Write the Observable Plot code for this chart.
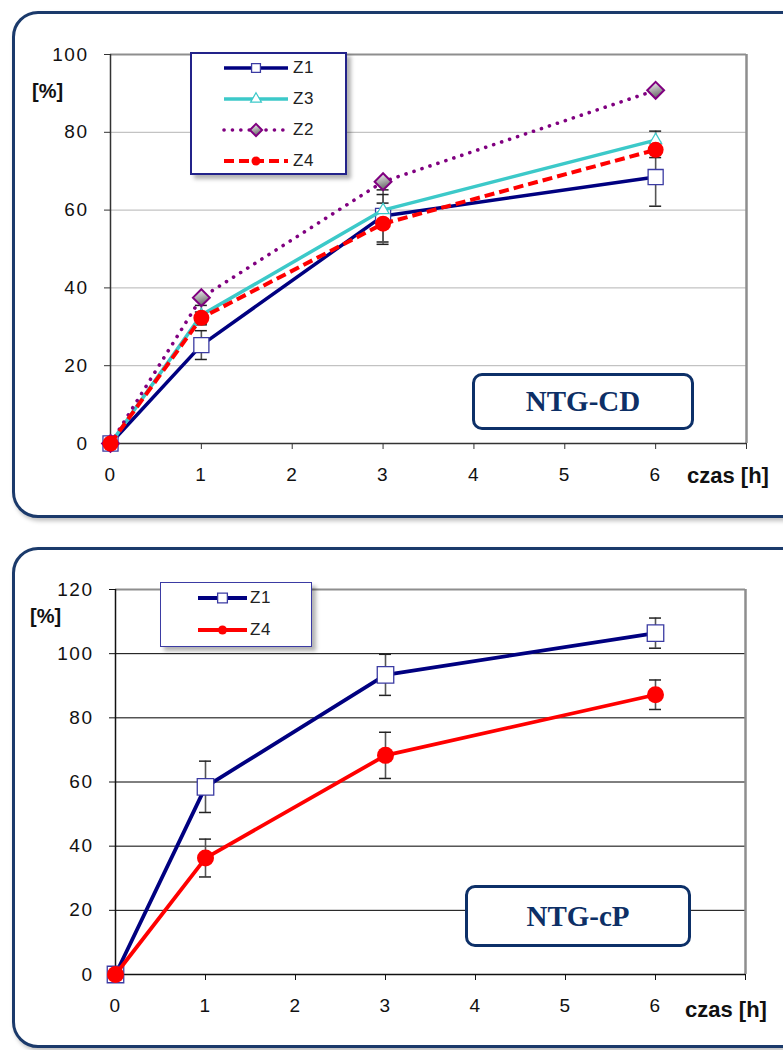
<!DOCTYPE html>
<html>
<head>
<meta charset="utf-8">
<script src="https://cdn.jsdelivr.net/npm/d3@7"></script>
<script src="https://cdn.jsdelivr.net/npm/@observablehq/plot@0.6"></script>
<style>
  body { margin: 0; background: #fff; }
  #page { position: relative; width: 783px; height: 1050px; overflow: hidden; font-family: "Liberation Sans", Arial, sans-serif; }
  .panel { position: absolute; border: 3px solid #1b3a6b; border-radius: 26px; background: #fff; box-shadow: 2px 3px 4px rgba(0,0,0,0.25); }
  .chart { position: absolute; left: 0; }
  .chart svg text { font-family: "Liberation Sans", Arial, sans-serif !important; font-size: 19px !important; letter-spacing: 1.5px; fill: #111; }
  .legend { position: absolute; background: #fff; box-sizing: border-box; box-shadow: 4px 4px 4px rgba(0,0,0,0.3); }
  .legend svg { position: absolute; overflow: visible; }
  .legend span { position: absolute; font-size: 17px; line-height: 17px; color: #222; letter-spacing: 0.5px; }
  .tag { position: absolute; box-sizing: border-box; border: 3px solid #0d3068; border-radius: 10px; background: #fff;
         font: bold 29px "Liberation Serif", "Times New Roman", serif; color: #0d2f66;
         display: flex; align-items: center; justify-content: center; }
  .lbl { position: absolute; font-weight: bold; line-height: 1; color: #111; white-space: nowrap; }
</style>
</head>
<body>
<svg width="0" height="0" style="position:absolute">
  <defs>
    <linearGradient id="diamondFill" x1="0" y1="0" x2="0.3" y2="1">
      <stop offset="0" stop-color="#ffffff"/>
      <stop offset="1" stop-color="#6a6a6a"/>
    </linearGradient>
  </defs>
</svg>
<div id="page"></div>
<script>
// Sampling times [h]
const hours = [0, 1, 3, 6];

// Axis ticks
const xTicks = [0, 1, 2, 3, 4, 5, 6, 7];
const xTickLabels = ["0", "1", "2", "3", "4", "5", "6", ""];
const yTicksCD = [0, 20, 40, 60, 80, 100];
const yTicksCP = [0, 20, 40, 60, 80, 100, 120];

// NTG-CD: released amount [%] and its spread
const cdOrder = ["Z1", "Z3", "Z2", "Z4"];
const cdZ1 = [0, 25.3, 58.5, 68.5];
const cdZ3 = [0, 33.0, 60.0, 78.0];
const cdZ2 = [0, 37.5, 67.3, 90.8];
const cdZ4 = [0, 32.3, 56.5, 75.5];
const cdZ1Err = [0, 3.7, 6.7, 7.5];
const cdZ3Err = [0, 2.5, 4.0, 2.3];
const cdZ2Err = [0, 0, 0, 0];
const cdZ4Err = [0, 1.5, 5.3, 2.0];

// NTG-cP: released amount [%] and its spread
const cpOrder = ["Z1", "Z4"];
const cpZ1 = [0, 58.5, 93.4, 106.4];
const cpZ4 = [0, 36.3, 68.3, 87.2];
const cpZ1Err = [0, 8.0, 6.4, 4.7];
const cpZ4Err = [0, 5.9, 7.2, 4.6];

const styleCD = {
  Z1: {stroke: "#000080", width: 3.5, dash: null, cap: "butt", symbol: "square", r: 8.5, fill: "#fff", mstroke: "#3b3ba3", mwidth: 1.3, lr: 5},
  Z3: {stroke: "#3cc9c9", width: 3.5, dash: null, cap: "butt", symbol: "triangle", r: 4.5, fill: "#fff", mstroke: "#3cc9c9", mwidth: 1.2, lr: 4},
  Z2: {stroke: "#800080", width: 3.6, dash: "0.1,8.3", cap: "round", symbol: "diamond2", r: 7.6, fill: "url(#diamondFill)", mstroke: "#800080", mwidth: 2, lr: 5.5},
  Z4: {stroke: "#ff0000", width: 4, dash: "10,5", cap: "butt", symbol: "circle", r: 8, fill: "#ff0000", mstroke: "#ff0000", mwidth: 0, lr: 4.5}
};
const styleCP = {
  Z1: {stroke: "#000080", width: 3.8, dash: null, cap: "butt", symbol: "square", r: 9.3, fill: "#fff", mstroke: "#3b3ba3", mwidth: 1.3, lr: 5.5},
  Z4: {stroke: "#ff0000", width: 3.8, dash: null, cap: "butt", symbol: "circle", r: 8.5, fill: "#ff0000", mstroke: "#ff0000", mwidth: 0, lr: 4.5}
};

function rows(values, errs) {
  return hours.map((h, i) => ({x: h, y: values[i], lo: values[i] - errs[i], hi: values[i] + errs[i], e: errs[i]}));
}

function errorMarks(data) {
  const d = data.filter(r => r.e > 0);
  return [
    Plot.ruleX(d, {x: "x", y1: "lo", y2: "hi", stroke: "#555", strokeWidth: 1.6}),
    Plot.ruleY(d, {y: "hi", x1: "x", x2: "x", insetLeft: -6, insetRight: -6, stroke: "#222", strokeWidth: 1.5}),
    Plot.ruleY(d, {y: "lo", x1: "x", x2: "x", insetLeft: -6, insetRight: -6, stroke: "#222", strokeWidth: 1.5})
  ];
}

function seriesMarks(data, s) {
  return [
    Plot.line(data, {x: "x", y: "y", stroke: s.stroke, strokeWidth: s.width, strokeDasharray: s.dash, strokeLinecap: s.cap, strokeLinejoin: "round"}),
    Plot.dot(data, {x: "x", y: "y", symbol: s.symbol, r: s.r, fill: s.fill, stroke: s.mstroke, strokeWidth: s.mwidth})
  ];
}

function chart({top, height, mL, mR, mT, mB, yMax, yTicks, gridColor, frameColor, axisColor, series, styles, order}) {
  const marks = [
    Plot.gridY(yTicks.filter(v => v > 0 && v < yMax), {stroke: gridColor, strokeOpacity: 1, strokeWidth: 1}),
    Plot.ruleY([yMax], {stroke: frameColor, strokeWidth: 2}),
    Plot.ruleX([7], {stroke: frameColor, strokeWidth: 2.5}),
    Plot.axisY({ticks: yTicks, tickSize: 6, tickPadding: 16, label: null, stroke: axisColor, fontSize: 19}),
    Plot.axisX({ticks: xTicks, tickFormat: d => xTickLabels[xTicks.indexOf(d)], tickSize: 6, tickPadding: 18, label: null, stroke: axisColor, fontSize: 19}),
    Plot.ruleX([0], {stroke: axisColor, strokeWidth: 1.5}),
    Plot.ruleY([0], {stroke: axisColor, strokeWidth: 1.5})
  ];
  for (const k of order) marks.push(...errorMarks(series[k]));
  for (const k of order) marks.push(...seriesMarks(series[k], styles[k]));
  const svg = Plot.plot({
    width: 783, height,
    marginLeft: mL, marginRight: mR, marginTop: mT, marginBottom: mB,
    x: {domain: [0, 7]},
    y: {domain: [0, yMax]},
    style: {fontFamily: "'Liberation Sans', Arial, sans-serif", fontSize: "19px", color: "#111", background: "transparent", overflow: "visible"},
    marks
  });
  const wrap = document.createElement("div");
  wrap.className = "chart";
  wrap.style.top = top + "px";
  wrap.appendChild(svg);
  return wrap;
}

function legend({left, top, width, height, border, rowsY, lineX1, lineX2, textX, order, styles}) {
  const box = document.createElement("div");
  box.className = "legend";
  Object.assign(box.style, {left: left + "px", top: top + "px", width: width + "px", height: height + "px", border});
  order.forEach((k, i) => {
    const s = styles[k];
    const cy = rowsY[i];
    const sw = d3.create("svg").attr("width", lineX2 - lineX1).attr("height", 20)
      .style("left", lineX1 + "px").style("top", (cy - 10) + "px");
    sw.append("line").attr("x1", 0).attr("x2", lineX2 - lineX1).attr("y1", 10).attr("y2", 10)
      .attr("stroke", s.stroke).attr("stroke-width", s.width)
      .attr("stroke-dasharray", s.dash).attr("stroke-linecap", s.cap);
    const sym = {square: d3.symbolSquare, triangle: d3.symbolTriangle, diamond2: d3.symbolDiamond2, circle: d3.symbolCircle}[s.symbol];
    sw.append("path").attr("d", d3.symbol(sym, Math.PI * s.lr * s.lr)())
      .attr("transform", `translate(${(lineX2 - lineX1) / 2},10)`)
      .attr("fill", s.fill).attr("stroke", s.mwidth ? s.mstroke : "none").attr("stroke-width", s.mwidth);
    box.appendChild(sw.node());
    const t = document.createElement("span");
    t.textContent = k;
    t.style.left = textX + "px";
    t.style.top = (cy - 9) + "px";
    box.appendChild(t);
  });
  return box;
}

function addDiv(cls, styles, text) {
  const d = document.createElement("div");
  d.className = cls;
  Object.assign(d.style, styles);
  if (text) d.textContent = text;
  page.appendChild(d);
  return d;
}

const page = document.getElementById("page");

// ---- NTG-CD ----
addDiv("panel", {left: "12px", top: "11px", width: "790px", height: "501px"});
page.appendChild(chart({
  top: 0, height: 510, mL: 110, mR: 37, mT: 54, mB: 67, yMax: 100, yTicks: yTicksCD,
  gridColor: "#b4b4b4", frameColor: "#8e8e8e", axisColor: "#333",
  series: {Z1: rows(cdZ1, cdZ1Err), Z3: rows(cdZ3, cdZ3Err), Z2: rows(cdZ2, cdZ2Err), Z4: rows(cdZ4, cdZ4Err)},
  styles: styleCD, order: cdOrder
}));
page.appendChild(legend({
  left: 190, top: 52, width: 157, height: 123, border: "2px solid #23238a",
  rowsY: [14, 45, 76, 107], lineX1: 32, lineX2: 96, textX: 101, order: cdOrder, styles: styleCD
}));
addDiv("tag", {left: "472px", top: "373px", width: "222px", height: "57px"}, "NTG-CD");
addDiv("lbl", {left: "32px", top: "81px", fontSize: "20px"}, "[%]");
addDiv("lbl", {left: "687px", top: "465px", fontSize: "22px"}, "czas [h]");

// ---- NTG-cP ----
addDiv("panel", {left: "12px", top: "547px", width: "790px", height: "495px"});
page.appendChild(chart({
  top: 540, height: 510, mL: 115, mR: 38, mT: 49, mB: 76, yMax: 120, yTicks: yTicksCP,
  gridColor: "#000", frameColor: "#8e8e8e", axisColor: "#111",
  series: {Z1: rows(cpZ1, cpZ1Err), Z4: rows(cpZ4, cpZ4Err)},
  styles: styleCP, order: cpOrder
}));
page.appendChild(legend({
  left: 160, top: 582, width: 152, height: 65, border: "1.5px solid #3b3ba3",
  rowsY: [15, 47], lineX1: 37, lineX2: 86, textX: 89, order: cpOrder, styles: styleCP
}));
addDiv("tag", {left: "465px", top: "885px", width: "226px", height: "62px"}, "NTG-cP");
addDiv("lbl", {left: "30px", top: "606px", fontSize: "20px"}, "[%]");
addDiv("lbl", {left: "685px", top: "999px", fontSize: "22px"}, "czas [h]");
</script>
</body>
</html>
